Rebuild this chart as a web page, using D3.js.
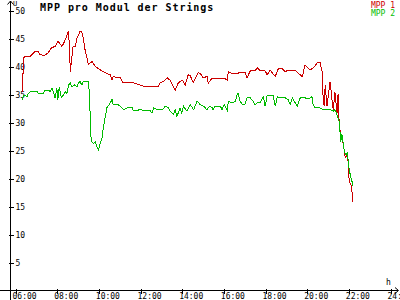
<!DOCTYPE html>
<html>
<head>
<meta charset="utf-8">
<script src="https://cdn.jsdelivr.net/npm/d3@7"></script>
<style>
  body { margin: 0; background: #fff; }
  svg { display: block; }
  text { font-family: "DejaVu Sans Mono", monospace; }
</style>
</head>
<body>
<svg id="chart" width="400" height="300"></svg>
<script>
// MPP 1 (red)
var timesMpp1 = ["06:20","06:23","06:28","06:42","06:57","07:05","07:11","07:23","07:34","07:43","07:54","08:03","08:14","08:20","08:29","08:33","08:38","08:42","08:46","08:52","08:57","09:06","09:11","09:16","09:21","09:26","09:30","09:40","09:50","10:04","10:13","10:24","10:33","10:38","10:41","10:53","11:02","11:10","11:24","11:36","11:45","11:59","12:14","12:28","12:42","12:51","12:57","13:05","13:17","13:26","13:34","13:40","13:49","14:00","14:09","14:17","14:23","14:32","14:46","14:52","15:00","15:12","15:15","15:26","15:44","16:04","16:10","16:13","16:24","16:38","16:47","17:01","17:07","17:16","17:30","17:36","17:45","17:59","18:05","18:13","18:28","18:37","18:48","18:57","19:05","19:25","19:40","19:46","19:54","20:08","20:17","20:31","20:37","20:43","20:46","20:49","20:52","20:57","21:06","21:12","21:15","21:20","21:26","21:29","21:32","21:37","21:40","21:44","21:50","21:55","21:58","22:01","22:06","22:09","22:12"];
var valuesMpp1 = [35.5,41.5,41.8,41.8,42.7,42.7,42.1,42.0,42.4,43.3,43.6,44.5,43.6,44.3,45.7,46.4,39.1,41.5,43.6,43.6,45.0,46.3,46.2,44.8,42.7,41.5,40.3,40.9,40.0,39.4,39.1,38.7,38.5,37.6,38.2,38.0,38.0,37.1,37.2,37.1,37.0,36.7,36.4,36.5,36.4,36.5,37.1,37.3,38.0,37.5,36.4,35.8,37.1,37.6,36.7,38.5,38.4,37.1,38.9,38.8,38.0,38.2,37.0,37.9,37.8,37.8,37.6,39.1,38.7,38.7,39.0,39.0,38.0,39.2,39.2,39.8,39.2,39.2,38.5,39.4,38.2,39.6,39.6,39.1,39.3,39.3,38.5,38.2,40.3,39.4,39.7,40.8,40.8,39.1,34.4,32.9,36.7,32.9,37.3,33.8,32.3,35.4,31.7,35.0,30.2,27.3,28.0,26.0,23.7,24.1,23.0,19.5,18.9,17.7,15.9];

// MPP 2 (green)
var timesMpp2 = ["06:20","06:23","06:28","06:33","06:37","06:42","07:03","07:05","07:20","07:26","07:34","07:40","07:45","07:49","07:54","07:59","08:02","08:06","08:12","08:18","08:23","08:28","08:33","08:38","08:42","08:50","08:57","09:01","09:06","09:11","09:15","09:29","09:32","09:35","09:38","09:45","09:50","09:54","09:59","10:04","10:09","10:13","10:18","10:23","10:33","10:38","10:41","10:53","11:02","11:11","11:22","11:36","11:39","11:50","11:59","12:08","12:28","12:33","12:38","12:47","12:57","13:05","13:11","13:21","13:26","13:35","13:40","13:45","13:54","13:59","14:04","14:14","14:23","14:33","14:43","14:52","15:02","15:11","15:19","15:26","15:29","15:35","15:50","15:55","16:01","16:10","16:13","16:24","16:33","16:38","16:41","16:47","16:53","17:01","17:07","17:16","17:24","17:30","17:36","17:45","17:51","17:54","17:59","18:05","18:22","18:28","18:34","18:37","18:57","19:05","19:11","19:17","19:20","19:31","19:40","19:54","20:03","20:14","20:17","20:23","20:37","20:43","20:57","21:06","21:15","21:20","21:26","21:29","21:32","21:37","21:40","21:43","21:47","21:52","21:56","21:59","22:04","22:09","22:12"];
var valuesMpp2 = [34.1,34.8,34.9,34.6,35.2,35.5,35.5,35.2,35.2,35.8,35.8,35.5,36.1,35.5,34.4,36.1,34.1,36.4,34.4,34.9,35.5,35.2,36.7,37.0,36.4,36.7,36.4,37.0,37.3,36.7,37.3,37.3,35.8,31.4,26.6,26.3,26.6,25.7,25.1,26.3,27.2,29.0,30.8,32.6,33.5,34.1,33.3,33.3,32.9,32.3,32.6,32.6,32.1,32.1,32.4,32.1,32.1,31.7,32.6,32.3,32.4,32.4,32.9,32.6,32.0,31.4,32.3,31.1,32.6,31.7,32.9,32.0,33.2,32.3,33.8,33.2,32.9,32.3,32.9,32.7,32.3,32.9,32.9,32.3,33.2,32.2,33.8,33.5,33.8,34.9,35.2,33.8,33.3,33.3,34.4,34.4,33.8,33.2,33.5,33.5,34.4,34.6,32.9,34.9,34.9,32.9,34.6,34.4,34.4,34.1,33.2,34.4,34.1,32.9,34.4,34.4,34.2,34.6,33.2,32.6,32.6,32.4,32.4,32.3,32.0,32.3,31.4,30.8,30.2,26.6,28.0,26.6,24.8,24.2,24.8,22.4,20.7,19.5,18.6];

var xTicks = [6, 8, 10, 12, 14, 16, 18, 20, 22, 24];
var yTicks = [5, 10, 15, 20, 25, 30, 35, 40, 45, 50];
var seriesNames = ["MPP 1", "MPP 2"];
var seriesColors = ["#cc0000", "#00bb00"];

function toHours(t) {
  var p = t.split(":");
  return +p[0] + +p[1] / 60;
}

function zipSeries(times, values) {
  return times.map(function (t, i) { return { h: toHours(t), v: values[i] }; });
}

var series = [zipSeries(timesMpp1, valuesMpp1), zipSeries(timesMpp2, valuesMpp2)];

const svg = d3.select("#chart");

const xScale = d3.scaleLinear().domain([6, 24]).range([15.5, 390.5]);
const yScale = d3.scaleLinear().domain([0, 50]).range([290.5, 10.5]);

// axis lines drawn across the whole picture
svg.append("line")
  .attr("x1", 0).attr("x2", 398).attr("y1", 290.5).attr("y2", 290.5)
  .attr("stroke", "#000").attr("shape-rendering", "crispEdges");
svg.append("line")
  .attr("x1", 10.5).attr("x2", 10.5).attr("y1", 1).attr("y2", 300)
  .attr("stroke", "#000").attr("shape-rendering", "crispEdges");

// arrow heads
svg.append("path")
  .attr("d", "M7.5,4.5 L10.5,1 L13.5,4.5")
  .attr("fill", "none").attr("stroke", "#000");
svg.append("path")
  .attr("d", "M395,287.5 L398.5,290.5 L395,293.5")
  .attr("fill", "none").attr("stroke", "#000");

// x axis
const xAxis = svg.append("g")
  .attr("class", "x-axis")
  .attr("transform", "translate(0,290.5)")
  .call(
    d3.axisBottom(xScale)
      .tickValues(xTicks)
      .tickSize(3)
      .tickSizeOuter(0)
      .tickPadding(-0.5)
      .tickFormat(function (d) { return (d < 10 ? "0" : "") + d + ":00"; })
  );
xAxis.select(".domain").remove();
xAxis.selectAll(".tick line").attr("y1", -2).attr("shape-rendering", "crispEdges");
xAxis.selectAll(".tick text")
  .attr("text-anchor", "start")
  .attr("x", -3.5)
  .style("font-size", "8px")
  .style("font-family", "DejaVu Sans Mono, monospace");

// y axis
const yAxis = svg.append("g")
  .attr("class", "y-axis")
  .attr("transform", "translate(10.5,0)")
  .call(
    d3.axisRight(yScale)
      .tickValues(yTicks)
      .tickSize(3)
      .tickSizeOuter(0)
      .tickPadding(2)
  );
yAxis.select(".domain").remove();
yAxis.selectAll(".tick line").attr("x1", -2).attr("shape-rendering", "crispEdges");
yAxis.selectAll(".tick text")
  .style("font-size", "8px")
  .style("font-family", "DejaVu Sans Mono, monospace");

// axis units
svg.append("text").attr("x", 13).attr("y", 6).style("font-size", "7px").text("U");
svg.append("text").attr("x", 386).attr("y", 285).style("font-size", "8px").text("h");

// lines
const line = d3.line()
  .x(function (d) { return xScale(d.h); })
  .y(function (d) { return yScale(d.v); });

svg.selectAll(".series")
  .data(series)
  .enter()
  .append("path")
  .attr("class", "series")
  .attr("fill", "none")
  .attr("stroke", function (d, i) { return seriesColors[i]; })
  .attr("stroke-width", 1)
  .attr("shape-rendering", "crispEdges")
  .attr("d", line);

// title
svg.append("text")
  .attr("x", 40)
  .attr("y", 11)
  .style("font-size", "10px")
  .style("font-weight", "bold")
  .style("letter-spacing", "0.95px")
  .text("MPP pro Modul der Strings");

// legend
svg.selectAll(".legend")
  .data(seriesNames)
  .enter()
  .append("text")
  .attr("class", "legend")
  .attr("x", 395)
  .attr("y", function (d, i) { return 7.5 + i * 8; })
  .attr("text-anchor", "end")
  .style("font-size", "8px")
  .attr("fill", function (d, i) { return seriesColors[i]; })
  .text(function (d) { return d; });
</script>
</body>
</html>
